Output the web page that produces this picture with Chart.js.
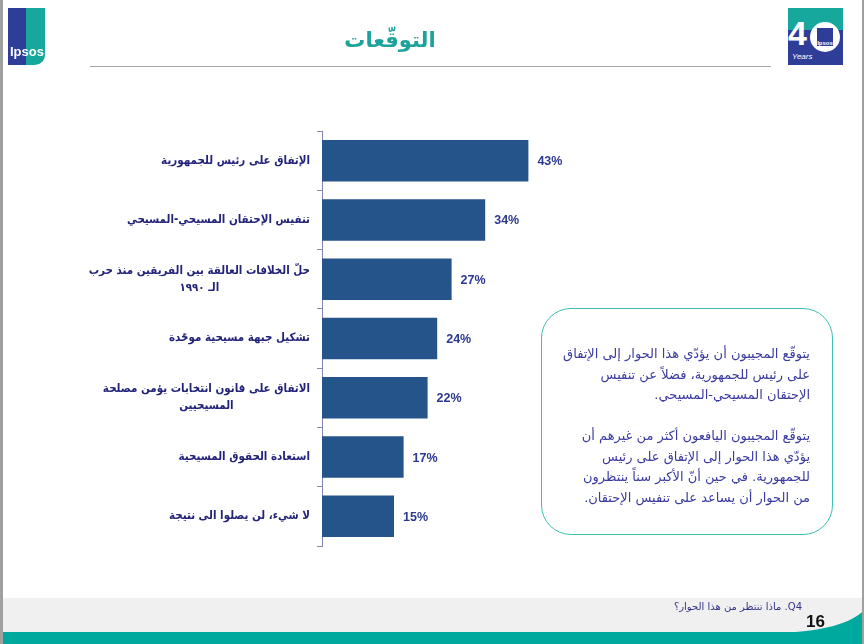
<!DOCTYPE html>
<html>
<head>
<meta charset="utf-8">
<script src="https://cdn.jsdelivr.net/npm/chart.js@4"></script>
<style>
  html, body { margin: 0; padding: 0; background: #fff; }
  body { width: 864px; height: 644px; position: relative; overflow: hidden; font-family: "DejaVu Sans", sans-serif; }
  #chart { position: absolute; left: 0; top: 0; }
  .edge { position: absolute; top: 0; bottom: 0; width: 3px; background: #a0a0a0; }
  .title { position: absolute; left: 290px; width: 200px; top: 28px; text-align: center; color: #1ba29a; font-weight: bold; font-size: 21px; direction: rtl; }
  .rule { position: absolute; left: 90px; width: 681px; top: 66px; height: 1px; background: #a8a8a8; }
  .logo1 { position: absolute; left: 8px; top: 8px; width: 37px; height: 57px; background: linear-gradient(90deg, #2e3d98 0, #2e3d98 50%, #16a79d 50%); border-radius: 0 0 10px 0; }
  .logo1 span { position: absolute; left: 2px; bottom: 6px; color: #fff; font: bold 13px "Liberation Sans", sans-serif; }
  .logo2 { position: absolute; left: 788px; top: 8px; width: 55px; height: 57px; background: #16a79d; }
  .logo2 .lo { position: absolute; left: 0; top: 22px; width: 55px; height: 35px; background: #2e3d98; }
  .logo2 .n { position: absolute; left: 0; top: 6px; color: #fff; font: bold 34px "Liberation Sans", sans-serif; }
  .logo2 .c { position: absolute; left: 22px; top: 14px; width: 30px; height: 30px; border-radius: 50%; background: #fff; }
  .logo2 .b { position: absolute; left: 29px; top: 20px; width: 16px; height: 18px; background: #2e3d98; color:#fff; font: bold 6px sans-serif; text-align:center; line-height: 30px; }
  .logo2 .y { position: absolute; left: 4px; top: 44px; color:#fff; font: italic 8px sans-serif; }
  .box { position: absolute; left: 541px; top: 308px; width: 292px; height: 227px; border: 1.5px solid #3cbfb0; border-radius: 30px; box-sizing: border-box; }
  .box div { position: absolute; right: 22px; width: 262px; direction: rtl; text-align: right; color: #3a3aa0; font-size: 13px; line-height: 20.5px; white-space: nowrap; }
  .foot { position: absolute; left: 3px; right: 0; top: 598px; height: 34px; background: #f0f0f0; }
  .teal { position: absolute; left: 0; right: 0; top: 632px; height: 12px; background: #00a99d; }
  .q { position: absolute; right: 62px; top: 601px; direction: rtl; font-size: 10px; color: #33338a; }
  .num { position: absolute; left: 806px; top: 612px; font: bold 17px "Liberation Sans", sans-serif; color: #111; }
</style>
</head>
<body>
<div class="foot"></div>
<svg style="position:absolute;left:0;top:590px" width="864" height="54">
  <path d="M780 43 C 825 41, 852 33, 864 20 L 864 54 L 780 54 Z" fill="#00a99d"/>
</svg>
<div class="teal"></div>
<div class="edge" style="left:0"></div>
<div class="edge" style="right:0;width:2px"></div>
<canvas id="chart" width="864" height="644"></canvas>
<div class="logo1"><span>Ipsos</span></div>
<div class="logo2"><div class="lo"></div><div class="n">4</div><div class="c"></div><div class="b">Ipsos</div><div class="y">Years</div></div>
<div class="title">التوقّعات</div>
<div class="rule"></div>
<div class="box">
  <div style="top:35px">يتوقّع المجيبون أن يؤدّي هذا الحوار إلى الإتفاق<br>على رئيس للجمهورية، فضلاً عن تنفيس<br>الإحتقان المسيحي-المسيحي.</div>
  <div style="top:117px">يتوقّع المجيبون اليافعون أكثر من غيرهم أن<br>يؤدّي هذا الحوار إلى الإتفاق على رئيس<br>للجمهورية. في حين أنّ الأكبر سناً ينتظرون<br>من الحوار أن يساعد على تنفيس الإحتقان.</div>
</div>
<div class="q">Q4. ماذا تنتظر من هذا الحوار؟</div>
<div class="num">16</div>

<script>
// categories (each entry = lines of the label)
const categories = [
  ["الإتفاق على رئيس للجمهورية"],
  ["تنفيس الإحتقان المسيحي-المسيحي"],
  ["حلّ الخلافات العالقة بين الفريقين منذ حرب", "الـ ١٩٩٠"],
  ["تشكيل جبهة مسيحية موحّدة"],
  ["الاتفاق على قانون انتخابات يؤمن مصلحة", "المسيحيين"],
  ["استعادة الحقوق المسيحية"],
  ["لا شيء، لن يصلوا الى نتيجة"]
];
const values = [43, 34, 27, 24, 22, 17, 15];
const axisMax = 50;

// draws the category labels and the value labels from the scales
const labelPlugin = {
  id: "labels",
  afterDatasetsDraw(chart) {
    const ctx = chart.ctx;
    const yScale = chart.scales.y;
    ctx.save();
    ctx.fillStyle = "#23237a";
    ctx.font = "bold 11.5px 'DejaVu Sans Condensed', 'DejaVu Sans', sans-serif";
    ctx.textBaseline = "middle";
    categories.forEach((lines, i) => {
      const y = yScale.getPixelForTick(i);
      const right = chart.chartArea.left - 12;
      const w0 = ctx.measureText(lines[0]).width;
      const lh = 17;
      const top = y - (lines.length - 1) * lh / 2;
      lines.forEach((t, j) => {
        if (j === 0) {
          ctx.textAlign = "right";
          ctx.fillText(t, right, top);
        } else {
          ctx.textAlign = "center";
          ctx.fillText(t, right - w0 / 2, top + j * lh);
        }
      });
    });
    ctx.fillStyle = "#2b3990";
    ctx.font = "bold 12.5px 'Liberation Sans', sans-serif";
    ctx.textAlign = "left";
    chart.getDatasetMeta(0).data.forEach((bar, i) => {
      ctx.fillText(values[i] + "%", bar.x + 9, bar.y + 1);
    });
    ctx.restore();
  }
};

new Chart(document.getElementById("chart"), {
  type: "bar",
  data: {
    labels: categories,
    datasets: [{
      data: values,
      backgroundColor: "#24548a",
      barPercentage: 0.7,
      categoryPercentage: 1
    }]
  },
  options: {
    indexAxis: "y",
    responsive: false,
    animation: false,
    devicePixelRatio: 1,
    layout: { padding: { left: 312, top: 131, right: 302, bottom: 98 } },
    plugins: { legend: { display: false }, tooltip: { enabled: false } },
    scales: {
      x: { display: false, min: 0, max: axisMax },
      y: {
        afterFit(scale) { scale.width = 10; },
        ticks: { display: false },
        border: { display: true, color: "#8585b5", width: 1 },
        grid: { drawOnChartArea: false, drawTicks: true, tickLength: 5, color: "#8585b5", offset: true }
      }
    }
  },
  plugins: [labelPlugin]
});
</script>
</body>
</html>
